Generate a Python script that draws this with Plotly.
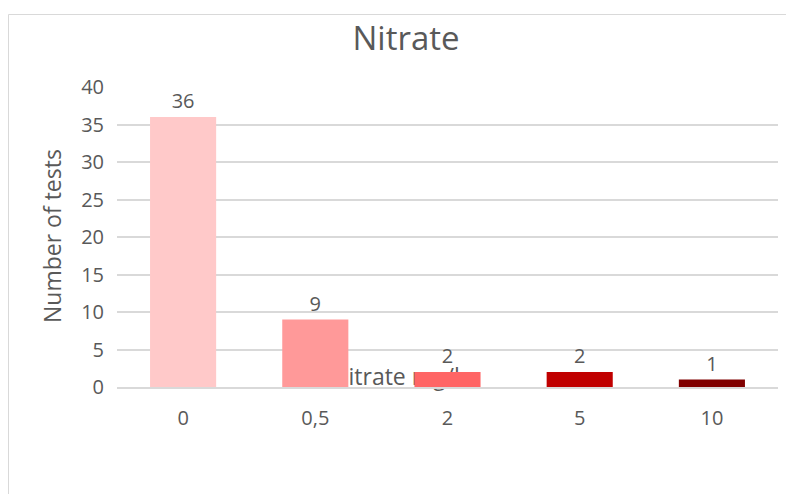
import plotly.graph_objects as go

# datos
categories = ["0", "0,5", "2", "5", "10"]
tests = [36, 9, 2, 2, 1]
bar_colors = ["#FFC9C9", "#FF9999", "#FF6565", "#C00000", "#800000"]

title = "Nitrate"
y_title = "Number of tests"
x_title = "Nitrate mg/l"   # titulo mal colocado, queda detras de las barras

GREY = "#595959"
FONT = "Open Sans"

# la pagina deja 8 px de margen, la figura va desde (8, 8)
W, H = 786, 486

fig = go.Figure()

# texto del eje x en los ejes principales (se dibuja primero, debajo de las barras)
fig.add_trace(go.Scatter(
    x=[1.12], y=[1.0],
    mode="text",
    text=[x_title],
    textposition="middle right",
    textfont=dict(size=23, color=GREY, family=FONT),
    showlegend=False,
    hoverinfo="skip",
    cliponaxis=False,
))

# barras en ejes superpuestos para que tapen el texto
fig.add_trace(go.Bar(
    x=categories,
    y=tests,
    xaxis="x2",
    yaxis="y2",
    width=0.5,
    marker=dict(color=bar_colors, line=dict(width=0)),
    text=[str(v) for v in tests],
    textposition="outside",
    textfont=dict(size=20, color=GREY, family=FONT),
    cliponaxis=False,
    showlegend=False,
))

fig.update_layout(
    width=W,
    height=H,
    margin=dict(l=109, r=16, t=79, b=107),
    paper_bgcolor="white",
    plot_bgcolor="white",
    font=dict(family=FONT, color=GREY),
    title=dict(
        text=title,
        font=dict(size=33, color=GREY, family=FONT),
        xref="container", x=398 / W, xanchor="center",
        yref="container", y=1 - 30 / H, yanchor="middle",
    ),
    xaxis=dict(
        type="linear", range=[-0.5, 4.5], visible=False, fixedrange=True,
    ),
    yaxis=dict(
        range=[0, 40],
        dtick=5,
        showgrid=True,
        gridcolor="#D9D9D9",
        gridwidth=1.5,
        zeroline=False,
        showline=False,
        ticks="outside",
        ticklen=8,
        tickcolor="rgba(0,0,0,0)",
        tickfont=dict(size=20, color=GREY, family=FONT),
    ),
    xaxis2=dict(
        overlaying="x",
        anchor="y2",
        type="category",
        categoryorder="array",
        categoryarray=categories,
        range=[-0.5, 4.5],
        showgrid=False,
        showline=True,
        linecolor="#D9D9D9",
        linewidth=1.5,
        ticks="outside",
        ticklen=12,
        tickcolor="rgba(0,0,0,0)",
        tickfont=dict(size=20, color=GREY, family=FONT),
    ),
    yaxis2=dict(
        overlaying="y",
        anchor="x2",
        range=[0, 40],
        visible=False,
        showgrid=False,
    ),
    annotations=[dict(
        text=y_title,
        xref="paper", yref="paper",
        x=(52 - 117) / 661, y=(387 - 236) / 300,
        xanchor="center", yanchor="middle",
        textangle=-90,
        showarrow=False,
        font=dict(size=23, color=GREY, family=FONT),
    )],
    shapes=[dict(
        type="rect",
        xref="paper", yref="paper",
        x0=(8.5 - 117) / 661, x1=2,
        y0=-2, y1=(387 - 14.5) / 300,
        line=dict(color="#D9D9D9", width=1),
        fillcolor="rgba(0,0,0,0)",
        layer="below",
    )],
)

fig.write_html("out.html")
